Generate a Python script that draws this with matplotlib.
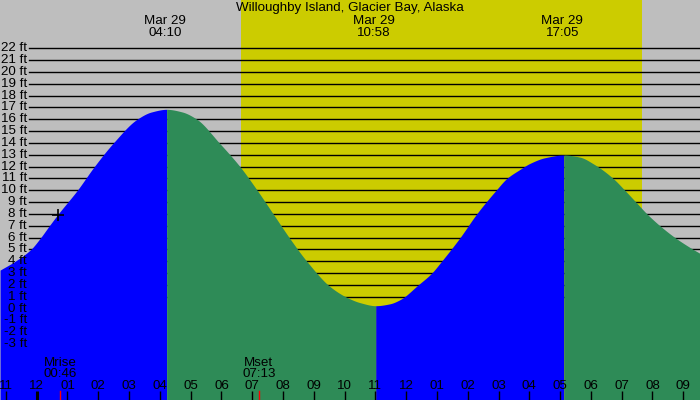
import matplotlib
matplotlib.use("Agg")
import matplotlib.pyplot as plt
import numpy as np

# ---- data (hours since midnight Mar 29, tide height in ft) ----
times = [-1.19, -0.70, -0.19, 0.13, 0.41, 0.70, 1.32, 1.87, 2.49, 3.26, 3.72, 4.22,
         4.72, 5.20, 5.93, 6.60, 7.16, 7.68, 8.20, 8.77, 9.53, 10.07, 10.50, 11.01,
         11.47, 11.80, 12.39, 12.83, 13.15, 13.75, 14.29, 14.92, 15.27, 15.69, 16.02, 16.51, 17.12,
         17.64, 18.10, 18.72, 19.10, 19.46, 19.82, 20.24, 20.73, 21.32, 21.54]
heights = [3.25, 4, 5, 6, 7, 8, 10, 12, 14, 16, 16.61, 16.84,
           16.62, 16, 14, 12, 10, 8, 6, 4, 1.85, 0.95, 0.5, 0.24,
           0.4, 0.75, 2, 3, 4, 6, 8, 10, 11, 11.75, 12.27, 12.75, 12.98,
           12.8, 12.2, 11, 10, 9, 8, 7, 6, 5, 4.67]

extreme_times = [4.22, 11.01, 17.12]
extreme_labels = ["04:10", "10:58", "17:05"]
extreme_date = "Mar 29"

sunrise, sunset = 6.645, 19.65
moon_events = [("Mrise", "00:46", 0.767), ("Mset", "07:13", 7.217)]
now_time, now_height = 0.69, 7.9

hour_ticks = list(range(-1, 22))
hour_labels = ["11", "12", "01", "02", "03", "04", "05", "06", "07", "08", "09", "10",
               "11", "12", "01", "02", "03", "04", "05", "06", "07", "08", "09"]
ft_levels = list(range(-3, 23))

title = "Willoughby Island, Glacier Bay, Alaska"

# ---- styling ----
plt.rcParams["font.family"] = ["Liberation Sans", "DejaVu Sans"]
FS = 9.6
BG = "#BEBEBE"
YEL = "#CCCC00"
BLUE = "#0000FF"
GREEN = "#2E8B57"
W, H = 700, 400
XMIN, XMAX = -1.192, 21.543
YMIN, YMAX = -7.73, 26.08


def pchip(x, y, xn):
    """Monotone cubic Hermite curve through the read points (for smooth drawing)."""
    x = np.asarray(x, float)
    y = np.asarray(y, float)
    hk = np.diff(x)
    dk = np.diff(y) / hk
    n = len(x)
    m = np.zeros(n)
    for k in range(1, n - 1):
        if dk[k - 1] * dk[k] <= 0:
            m[k] = 0.0
        else:
            w1 = 2 * hk[k] + hk[k - 1]
            w2 = hk[k] + 2 * hk[k - 1]
            m[k] = (w1 + w2) / (w1 / dk[k - 1] + w2 / dk[k])
    m[0] = dk[0]
    m[-1] = dk[-1]
    idx = np.clip(np.searchsorted(x, xn) - 1, 0, n - 2)
    h = hk[idx]
    s = (xn - x[idx]) / h
    h00 = 2 * s**3 - 3 * s**2 + 1
    h10 = s**3 - 2 * s**2 + s
    h01 = -2 * s**3 + 3 * s**2
    h11 = s**3 - s**2
    return h00 * y[idx] + h10 * h * m[idx] + h01 * y[idx + 1] + h11 * h * m[idx + 1]


fig = plt.figure(figsize=(7, 4), dpi=100)
fig.patch.set_facecolor(BG)
ax = fig.add_axes([0, 0, 1, 1])
ax.set_facecolor(BG)
ax.set_xlim(XMIN, XMAX)
ax.set_ylim(YMIN, YMAX)
ax.axis("off")


def fy(ypx):
    return 1 - ypx / H


xt = ax.get_xaxis_transform()

# daylight
ax.axvspan(sunrise, sunset, color=YEL, lw=0, zorder=1)

# grid lines
x_line_start = 29.3 / W
for lv in range(1, 23):
    ax.axhline(lv, xmin=x_line_start, xmax=1, color="black", lw=1.0, zorder=2)

# tide fill
bounds = [times[0]] + extreme_times + [times[-1]]
rising = [True, False, True, False]
for i in range(len(bounds) - 1):
    tn = np.linspace(bounds[i], bounds[i + 1], 300)
    hn = pchip(times, heights, tn)
    ax.fill_between(tn, YMIN, hn, color=BLUE if rising[i] else GREEN,
                    lw=0, zorder=3)

# now marker
ax.plot([now_time], [now_height], marker="+", color="black", ms=8, mew=1.2, zorder=5)

# y labels
for lv in ft_levels:
    ax.text(27 / W, lv, f"{lv} ft", transform=ax.get_yaxis_transform(),
            ha="right", va="center", fontsize=FS, color="black", zorder=6)

# title
ax.text(0.5, fy(8), title, transform=ax.transAxes, ha="center", va="center",
        fontsize=FS, zorder=6)

# extreme labels
for et, lab in zip(extreme_times, extreme_labels):
    ax.text(et - 0.05, fy(21.3), extreme_date, transform=xt, ha="center", va="center",
            fontsize=FS, zorder=6)
    ax.text(et - 0.05, fy(33), lab, transform=xt, ha="center", va="center",
            fontsize=FS, zorder=6)

# moon events
for name, tm, tt in moon_events:
    ax.text(tt, fy(362.5), name, transform=xt, ha="center", va="center", fontsize=FS, zorder=6)
    ax.text(tt, fy(374), tm, transform=xt, ha="center", va="center", fontsize=FS, zorder=6)
    ax.plot([tt, tt], [fy(391), fy(400)], transform=xt, color="red", lw=1, zorder=6)

# hour ticks
for hr, lab in zip(hour_ticks, hour_labels):
    ax.text(hr, fy(386.3), lab, transform=xt, ha="center", va="center", fontsize=FS, zorder=6)
    ax.plot([hr, hr], [fy(391), fy(400)], transform=xt, color="black",
            lw=2.2 if hr == 0 else 1, solid_capstyle="butt", zorder=6)

fig.savefig("out.png", dpi=100, facecolor=BG)
